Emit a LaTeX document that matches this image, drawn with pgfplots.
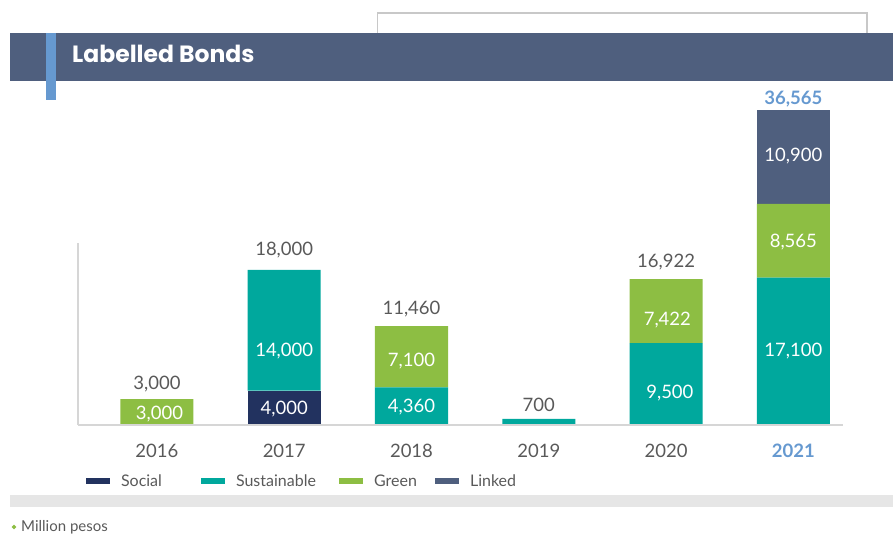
\documentclass[border=0pt]{standalone}
\usepackage{pgfplots}
\pgfplotsset{compat=1.18}
\usetikzlibrary{shapes.geometric}
\usepackage{fontspec}
\setmainfont{Lato}
\newfontfamily\titlefont{Poppins}
\definecolor{social}{HTML}{22325F}
\definecolor{sust}{HTML}{00A89D}
\definecolor{greenc}{HTML}{8DBE43}
\definecolor{linked}{HTML}{4F5F7E}
\definecolor{header}{HTML}{4F5F7E}
\definecolor{accent}{HTML}{6699D0}
\definecolor{txt}{HTML}{595959}
\definecolor{axgray}{HTML}{D6D6D6}
\definecolor{boxgray}{HTML}{C8C8C8}
\definecolor{band}{HTML}{E6E6E6}
\tikzset{
  lbl/.style={anchor=base, text=white, inner sep=0pt, font=\fontsize{18.5}{22}\selectfont},
  tot/.style={anchor=base, text=txt, inner sep=0pt, font=\fontsize{18.5}{22}\selectfont},
}
\begin{document}
\begin{tikzpicture}[x=1pt,y=1pt]
\path[use as bounding box] (0,0) rectangle (893,534);
\fill[header] (10,453) rectangle (893,501);
\draw[boxgray, line width=1.5pt] (377.5,501) -- (377.5,521) -- (867,521) -- (867,501);
\fill[accent] (46,434) rectangle (55.5,501);
\node[anchor=base west, inner sep=0pt, text=white, font=\titlefont\bfseries\fontsize{23.5}{28}\selectfont] at (72,471.5) {Labelled Bonds};
\fill[band] (10,27) rectangle (893,39);
\node[diamond, fill=greenc, inner sep=0pt, minimum size=5pt] at (14,7) {};
\node[anchor=base west, inner sep=0pt, text=txt, font=\fontsize{15}{18}\selectfont] at (21,2) {Million pesos};
\begin{axis}[
  at={(78pt,109pt)}, anchor=south west,
  scale only axis, width=765pt, height=182pt,
  xmin=-0.62, xmax=5.39, ymin=0, ymax=21114,
  clip=false, axis on top,
  ybar stacked, bar width=73pt,
  axis x line*=bottom, axis y line*=left,
  axis line style={draw=axgray, line width=1.8pt},
  ytick=\empty,
  xtick={0,1,2,3,4,5},
  xticklabels={2016,2017,2018,2019,2020,{\color{accent}\bfseries 2021}},
  major tick length=0pt,
  xticklabel style={anchor=base, yshift=-32.5pt, text=txt, font=\fontsize{18.5}{22}\selectfont},
  legend image code/.code={\fill[#1,draw=none] (0pt,-3pt) rectangle (24pt,3pt);},
  legend style={draw=none, fill=none, legend columns=4,
    at={(0.0105,-0.3077)}, anchor=west, inner sep=0pt, outer sep=0pt,
    nodes={inner sep=0pt, text=txt, font=\fontsize{16}{19}\selectfont},
    /tikz/every odd column/.append style={column sep=11pt},
    /tikz/every even column/.append style={column sep=0pt}},
]
\addplot[fill=social, draw=none] coordinates {(0,0) (1,4000) (2,0) (3,0) (4,0) (5,0)};
\addlegendentry{\makebox[80pt][l]{Social}}
\addplot[fill=sust, draw=none] coordinates {(0,0) (1,14000) (2,4360) (3,700) (4,9500) (5,17100)};
\addlegendentry{\makebox[103pt][l]{Sustainable}}
\addplot[fill=greenc, draw=none] coordinates {(0,3000) (1,0) (2,7100) (3,0) (4,7422) (5,8565)};
\addlegendentry{\makebox[61pt][l]{Green}}
\addplot[fill=linked, draw=none] coordinates {(0,0) (1,0) (2,0) (3,0) (4,0) (5,10900)};
\addlegendentry{Linked}
% positions of segment labels
\coordinate (s1) at (axis cs:0.02,580);
\coordinate (s2) at (axis cs:1,1218);
\coordinate (s3) at (axis cs:1,7947);
\coordinate (s4) at (axis cs:2,1450);
\coordinate (s5) at (axis cs:2,6787);
\coordinate (s6) at (axis cs:4.03,3074);
\coordinate (s7) at (axis cs:4.01,11485);
\coordinate (s8) at (axis cs:5,7947);
\coordinate (s9) at (axis cs:5,20592);
\coordinate (s10) at (axis cs:5,30568);
% totals
\node[tot] at (axis cs:0,4118) {3,000};
\node[tot] at (axis cs:1,19700) {18,000};
\node[tot] at (axis cs:2,12819) {11,460};
\node[tot] at (axis cs:3,1566) {700};
\node[tot] at (axis cs:4,18329) {16,922};
\node[tot, text=accent, font=\bfseries\fontsize{18.5}{22}\selectfont] at (axis cs:5,37181) {36,565};
\end{axis}
\node[lbl] at (s1) {3,000};
\node[lbl] at (s2) {4,000};
\node[lbl] at (s3) {14,000};
\node[lbl] at (s4) {4,360};
\node[lbl] at (s5) {7,100};
\node[lbl] at (s6) {9,500};
\node[lbl] at (s7) {7,422};
\node[lbl] at (s8) {17,100};
\node[lbl] at (s9) {8,565};
\node[lbl] at (s10) {10,900};
\end{tikzpicture}
\end{document}
